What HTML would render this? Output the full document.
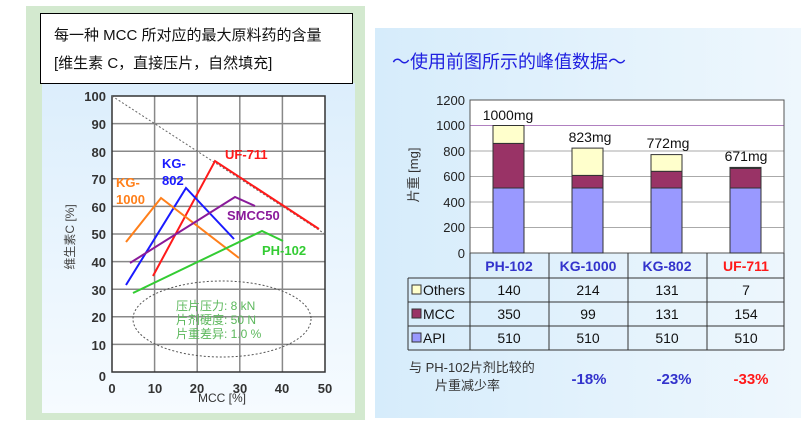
<!DOCTYPE html>
<html><head><meta charset="utf-8"><style>
html,body{margin:0;padding:0;background:#fff;}
svg{display:block;}
text{font-family:"Liberation Sans","Noto Sans CJK SC",sans-serif;}
</style></head><body>
<svg width="801" height="433" viewBox="0 0 801 433" xmlns="http://www.w3.org/2000/svg">
<defs>
<linearGradient id="rb" x1="0" y1="0" x2="1" y2="0">
<stop offset="0" stop-color="#d6ecfb"/><stop offset="1" stop-color="#eef7fd"/>
</linearGradient>
<linearGradient id="lb" x1="0" y1="0" x2="0" y2="1">
<stop offset="0" stop-color="#dceefc"/><stop offset="1" stop-color="#f6fbff"/>
</linearGradient>
</defs>
<rect width="801" height="433" fill="#fff"/>
<rect x="26" y="6" width="339" height="414" fill="#d3e9cf"/>
<rect x="42" y="83" width="313" height="330" fill="url(#lb)"/>
<rect x="40.5" y="13.5" width="312" height="70" fill="#fff" stroke="#000" stroke-width="1"/>
<text x="54" y="40" font-size="15" fill="#111">每一种 MCC 所对应的最大原料药的含量</text>
<text x="54" y="68" font-size="15" fill="#111">[维生素 C，直接压片，自然填充]</text>
<rect x="112" y="96" width="213" height="276" fill="#fff"/>
<g stroke="#888" stroke-width="1.5">
<line x1="154.6" y1="96" x2="154.6" y2="372"/><line x1="197.2" y1="96" x2="197.2" y2="372"/>
<line x1="239.8" y1="96" x2="239.8" y2="372"/><line x1="282.4" y1="96" x2="282.4" y2="372"/>
<line x1="112" y1="123.6" x2="325" y2="123.6"/><line x1="112" y1="151.2" x2="325" y2="151.2"/>
<line x1="112" y1="178.8" x2="325" y2="178.8"/><line x1="112" y1="206.4" x2="325" y2="206.4"/>
<line x1="112" y1="234" x2="325" y2="234"/><line x1="112" y1="261.6" x2="325" y2="261.6"/>
<line x1="112" y1="289.2" x2="325" y2="289.2"/><line x1="112" y1="316.8" x2="325" y2="316.8"/>
<line x1="112" y1="344.4" x2="325" y2="344.4"/>
</g>
<rect x="112" y="96" width="213" height="276" fill="none" stroke="#333" stroke-width="1.5"/>
<line x1="112" y1="96" x2="325" y2="234" stroke="#666" stroke-width="1" stroke-dasharray="2,2"/>
<g font-size="13" font-weight="bold" fill="#333" text-anchor="end">
<text x="106" y="101">100</text><text x="106" y="129">90</text><text x="106" y="157">80</text>
<text x="106" y="184">70</text><text x="106" y="212">60</text><text x="106" y="239">50</text>
<text x="106" y="267">40</text><text x="106" y="295">30</text><text x="106" y="322">20</text>
<text x="106" y="350">10</text><text x="106" y="381">0</text>
</g>
<g font-size="13" font-weight="bold" fill="#333" text-anchor="middle">
<text x="112" y="393">0</text><text x="155" y="393">10</text><text x="197" y="393">20</text>
<text x="240" y="393">30</text><text x="282" y="393">40</text><text x="325" y="393">50</text>
</g>
<text x="222" y="402" font-size="12" fill="#333" text-anchor="middle">MCC [%]</text>
<text transform="translate(74,237) rotate(-90)" font-size="12" fill="#444" text-anchor="middle">维生素C [%]</text>
<g fill="none" stroke-width="2">
<polyline points="153,276 215,161 319,229" stroke="#ff1a1a"/>
<polyline points="126,285 186,188 234,239" stroke="#1a1aff"/>
<polyline points="126,242 161,198 239,258" stroke="#ff7f1a"/>
<polyline points="130,263 235,197 255,206" stroke="#8a1a9a"/>
<polyline points="133,293 262,231 283,241" stroke="#33cc33"/>
</g>
<g font-size="13" font-weight="bold">
<text x="225" y="159" fill="#ff1a1a">UF-711</text>
<text x="162" y="168" fill="#1a1aff">KG-</text><text x="162" y="185" fill="#1a1aff">802</text>
<text x="116" y="187" fill="#ff7f1a">KG-</text><text x="116" y="204" fill="#ff7f1a">1000</text>
<text x="227" y="220" fill="#8a1a9a">SMCC50</text>
<text x="262" y="255" fill="#33cc33">PH-102</text>
</g>
<ellipse cx="222" cy="319" rx="89" ry="38" fill="none" stroke="#555" stroke-width="1" stroke-dasharray="2,2"/>
<g font-size="12" fill="#5cb85c">
<text x="176" y="310">压片压力:  8 kN</text>
<text x="176" y="324">片剂硬度:   50 N</text>
<text x="176" y="338">片重差异: 1.0 %</text>
</g>
<rect x="375" y="28" width="426" height="390" fill="url(#rb)"/>
<text x="392" y="68" font-size="18" fill="#2020e0">～使用前图所示的峰值数据～</text>
<rect x="470" y="100" width="314" height="153" fill="#fff"/>
<g stroke="#aaa" stroke-width="1">
<line x1="470" y1="125.5" x2="784" y2="125.5" stroke="#b080c0"/>
<line x1="470" y1="151" x2="784" y2="151"/><line x1="470" y1="176.5" x2="784" y2="176.5"/>
<line x1="470" y1="202" x2="784" y2="202"/><line x1="470" y1="227.5" x2="784" y2="227.5"/>
</g>
<rect x="470" y="100" width="314" height="153" fill="none" stroke="#555" stroke-width="1"/>
<g stroke="#333" stroke-width="1">
<rect x="493" y="188" width="31" height="65" fill="#9999ff"/>
<rect x="493" y="143.4" width="31" height="44.6" fill="#993366"/>
<rect x="493" y="125.5" width="31" height="17.9" fill="#ffffcc"/>
<rect x="572" y="188" width="31" height="65" fill="#9999ff"/>
<rect x="572" y="175.4" width="31" height="12.6" fill="#993366"/>
<rect x="572" y="148.1" width="31" height="27.3" fill="#ffffcc"/>
<rect x="651" y="188" width="31" height="65" fill="#9999ff"/>
<rect x="651" y="171.3" width="31" height="16.7" fill="#993366"/>
<rect x="651" y="154.6" width="31" height="16.7" fill="#ffffcc"/>
<rect x="730" y="188" width="31" height="65" fill="#9999ff"/>
<rect x="730" y="168.4" width="31" height="19.6" fill="#993366"/>
<rect x="730" y="167.4" width="31" height="1" fill="#ffffcc"/>
</g>
<g font-size="14" fill="#111" text-anchor="middle">
<text x="508" y="120">1000mg</text><text x="590" y="142">823mg</text>
<text x="668" y="148">772mg</text><text x="746" y="161">671mg</text>
</g>
<g font-size="13" fill="#222" text-anchor="end">
<text x="465" y="105">1200</text><text x="465" y="130">1000</text><text x="465" y="156">800</text>
<text x="465" y="181">600</text><text x="465" y="207">400</text><text x="465" y="232">200</text>
<text x="465" y="258">0</text>
</g>
<text transform="translate(418,175) rotate(-90)" font-size="13" fill="#333" text-anchor="middle">片重 [mg]</text>
<g stroke="#333" stroke-width="1" fill="none">
<line x1="470" y1="253" x2="470" y2="350"/>
<line x1="549" y1="253" x2="549" y2="350"/><line x1="628" y1="253" x2="628" y2="350"/>
<line x1="707" y1="253" x2="707" y2="350"/><line x1="784" y1="253" x2="784" y2="350"/>
<line x1="408" y1="278" x2="784" y2="278"/><line x1="408" y1="302" x2="784" y2="302"/>
<line x1="408" y1="326" x2="784" y2="326"/><line x1="408" y1="350" x2="784" y2="350"/>
<line x1="408" y1="278" x2="408" y2="350"/>
</g>
<g font-size="14" font-weight="bold" text-anchor="middle">
<text x="509" y="271" fill="#3333cc">PH-102</text><text x="588" y="271" fill="#3333cc">KG-1000</text>
<text x="667" y="271" fill="#3333cc">KG-802</text><text x="746" y="271" fill="#ff1a1a">UF-711</text>
</g>
<g stroke="#333" stroke-width="1">
<rect x="412" y="285" width="9" height="9" fill="#ffffcc"/>
<rect x="412" y="309" width="9" height="9" fill="#993366"/>
<rect x="412" y="333" width="9" height="9" fill="#9999ff"/>
</g>
<g font-size="14" fill="#111">
<text x="423" y="295">Others</text><text x="423" y="319">MCC</text><text x="423" y="343">API</text>
</g>
<g font-size="14" fill="#111" text-anchor="middle">
<text x="509" y="295">140</text><text x="588" y="295">214</text><text x="667" y="295">131</text><text x="746" y="295">7</text>
<text x="509" y="319">350</text><text x="588" y="319">99</text><text x="667" y="319">131</text><text x="746" y="319">154</text>
<text x="509" y="343">510</text><text x="588" y="343">510</text><text x="667" y="343">510</text><text x="746" y="343">510</text>
</g>
<text x="409" y="372" font-size="13" fill="#333">与 PH-102片剂比较的</text>
<text x="435" y="390" font-size="13" fill="#333">片重减少率</text>
<g font-size="15" font-weight="bold" text-anchor="middle">
<text x="589" y="384" fill="#3333cc">-18%</text>
<text x="674" y="384" fill="#3333cc">-23%</text>
<text x="751" y="384" fill="#ff1a1a">-33%</text>
</g>
</svg>
</body></html>
